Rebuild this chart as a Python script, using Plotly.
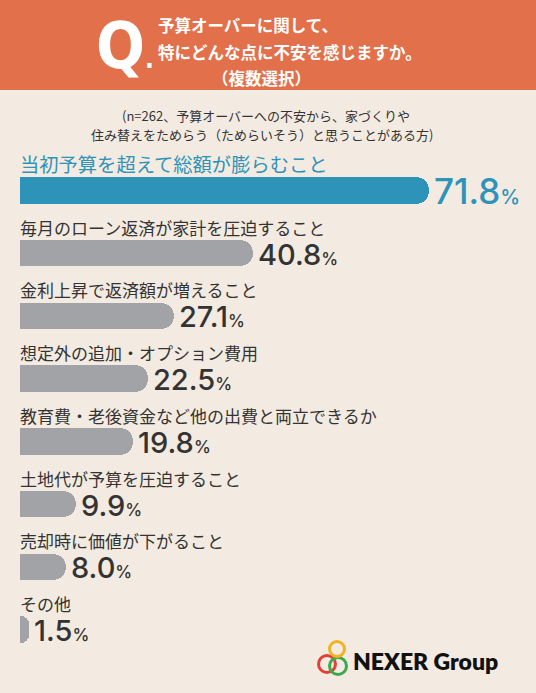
import plotly.graph_objects as go

categories = [
    "当初予算を超えて総額が膨らむこと",
    "毎月のローン返済が家計を圧迫すること",
    "金利上昇で返済額が増えること",
    "想定外の追加・オプション費用",
    "教育費・老後資金など他の出費と両立できるか",
    "土地代が予算を圧迫すること",
    "売却時に価値が下がること",
    "その他",
]
values = [71.8, 40.8, 27.1, 22.5, 19.8, 9.9, 8.0, 1.5]
value_labels = ["71.8", "40.8", "27.1", "22.5", "19.8", "9.9", "8.0", "1.5"]

W, H = 536, 693
ML, MR, MT, MB = 20, 0, 159, 32
PW, PH = W - ML - MR, H - MT - MB

BG = "#F3EBE1"
ORANGE = "#E2714B"
BLUE = "#2E93B9"
GRAY = "#A2A3A7"
DARK = "#333333"
JP = "Noto Sans CJK JP"
NUM = "Inter, Lato, sans-serif"


def px_x(x):
    return (x - ML) / PW


def px_y(y):
    return (H - MB - y) / PH


colors = [BLUE] + [GRAY] * (len(categories) - 1)

fig = go.Figure(
    go.Bar(
        x=values,
        y=categories,
        orientation="h",
        width=0.42,
        marker=dict(color=colors, cornerradius=13, line=dict(width=0)),
        hoverinfo="skip",
    )
)

annotations = []
for i, (c, v, lab) in enumerate(zip(categories, values, value_labels)):
    first = i == 0
    annotations.append(dict(
        x=0, y=c, xref="x", yref="y", text=c, showarrow=False,
        xanchor="left", yanchor="middle", yshift=26, xshift=-2,
        font=dict(family=JP, size=19.3 if first else 17, color=BLUE if first else DARK),
    ))
    big = 35 if first else 29
    small = 20 if first else 17
    annotations.append(dict(
        x=v, y=c, xref="x", yref="y",
        text=f"{lab}<span style='font-size:{small}px'>%</span>",
        showarrow=False, xanchor="left", yanchor="middle", xshift=3, yshift=-1,
        font=dict(family=NUM, size=big, color=BLUE if first else DARK, weight=500),
    ))

# header texts
annotations += [
    dict(x=px_x(94), y=px_y(46), xref="paper", yref="paper",
         text="Q<span style='font-size:26px'>.</span>", showarrow=False,
         xanchor="left", yanchor="middle",
         font=dict(family="DejaVu Sans Condensed, Roboto, sans-serif", size=64, color="white", weight=700)),
    dict(x=px_x(156), y=px_y(25), xref="paper", yref="paper", text="予算オーバーに関して、",
         showarrow=False, xanchor="left", yanchor="middle",
         font=dict(family=JP, size=16.5, color="white", weight=700)),
    dict(x=px_x(156), y=px_y(52), xref="paper", yref="paper", text="特にどんな点に不安を感じますか。",
         showarrow=False, xanchor="left", yanchor="middle",
         font=dict(family=JP, size=16.5, color="white", weight=700)),
    dict(x=px_x(261), y=px_y(78), xref="paper", yref="paper", text="（複数選択）",
         showarrow=False, xanchor="center", yanchor="middle",
         font=dict(family=JP, size=16.5, color="white", weight=700)),
    dict(x=px_x(266), y=px_y(115.5), xref="paper", yref="paper",
         text="(n=262、予算オーバーへの不安から、家づくりや",
         showarrow=False, xanchor="center", yanchor="middle",
         font=dict(family=JP, size=13, color=DARK)),
    dict(x=px_x(262), y=px_y(134.5), xref="paper", yref="paper",
         text="住み替えをためらう（ためらいそう）と思うことがある方)",
         showarrow=False, xanchor="center", yanchor="middle",
         font=dict(family=JP, size=13, color=DARK)),
    dict(x=px_x(351), y=px_y(661), xref="paper", yref="paper", text="NEXER Group",
         showarrow=False, xanchor="left", yanchor="middle",
         font=dict(family="Lato, Roboto, sans-serif", size=23, color="#111111", weight=800)),
]

shapes = [
    dict(type="rect", xref="paper", yref="paper", x0=px_x(0), x1=px_x(W), y0=px_y(90), y1=px_y(0),
         fillcolor=ORANGE, line=dict(width=0), layer="below"),
]
rings = [((327, 664), 8.5, "#E3403A"), ((338, 666), 8.5, "#3DAA4A"), ((337, 649), 7.5, "#F2B322")]
for (cx, cy), r, col in rings:
    shapes.append(dict(type="circle", xref="paper", yref="paper",
                       x0=px_x(cx - r), x1=px_x(cx + r), y0=px_y(cy + r), y1=px_y(cy - r),
                       line=dict(color=col, width=3), fillcolor="rgba(0,0,0,0)"))

fig.update_layout(
    width=W, height=H,
    margin=dict(l=ML, r=MR, t=MT, b=MB, pad=0),
    paper_bgcolor=BG, plot_bgcolor=BG,
    showlegend=False,
    xaxis=dict(range=[0, PW / 5.7], visible=False, fixedrange=True),
    yaxis=dict(range=[len(categories) - 0.5, -0.5], visible=False, fixedrange=True),
    annotations=annotations,
    shapes=shapes,
    bargap=0,
)

fig.write_html(
    "out.html",
    config={"displayModeBar": False},
    post_script="document.body.style.margin='0';document.body.style.background='" + BG + "';",
)
